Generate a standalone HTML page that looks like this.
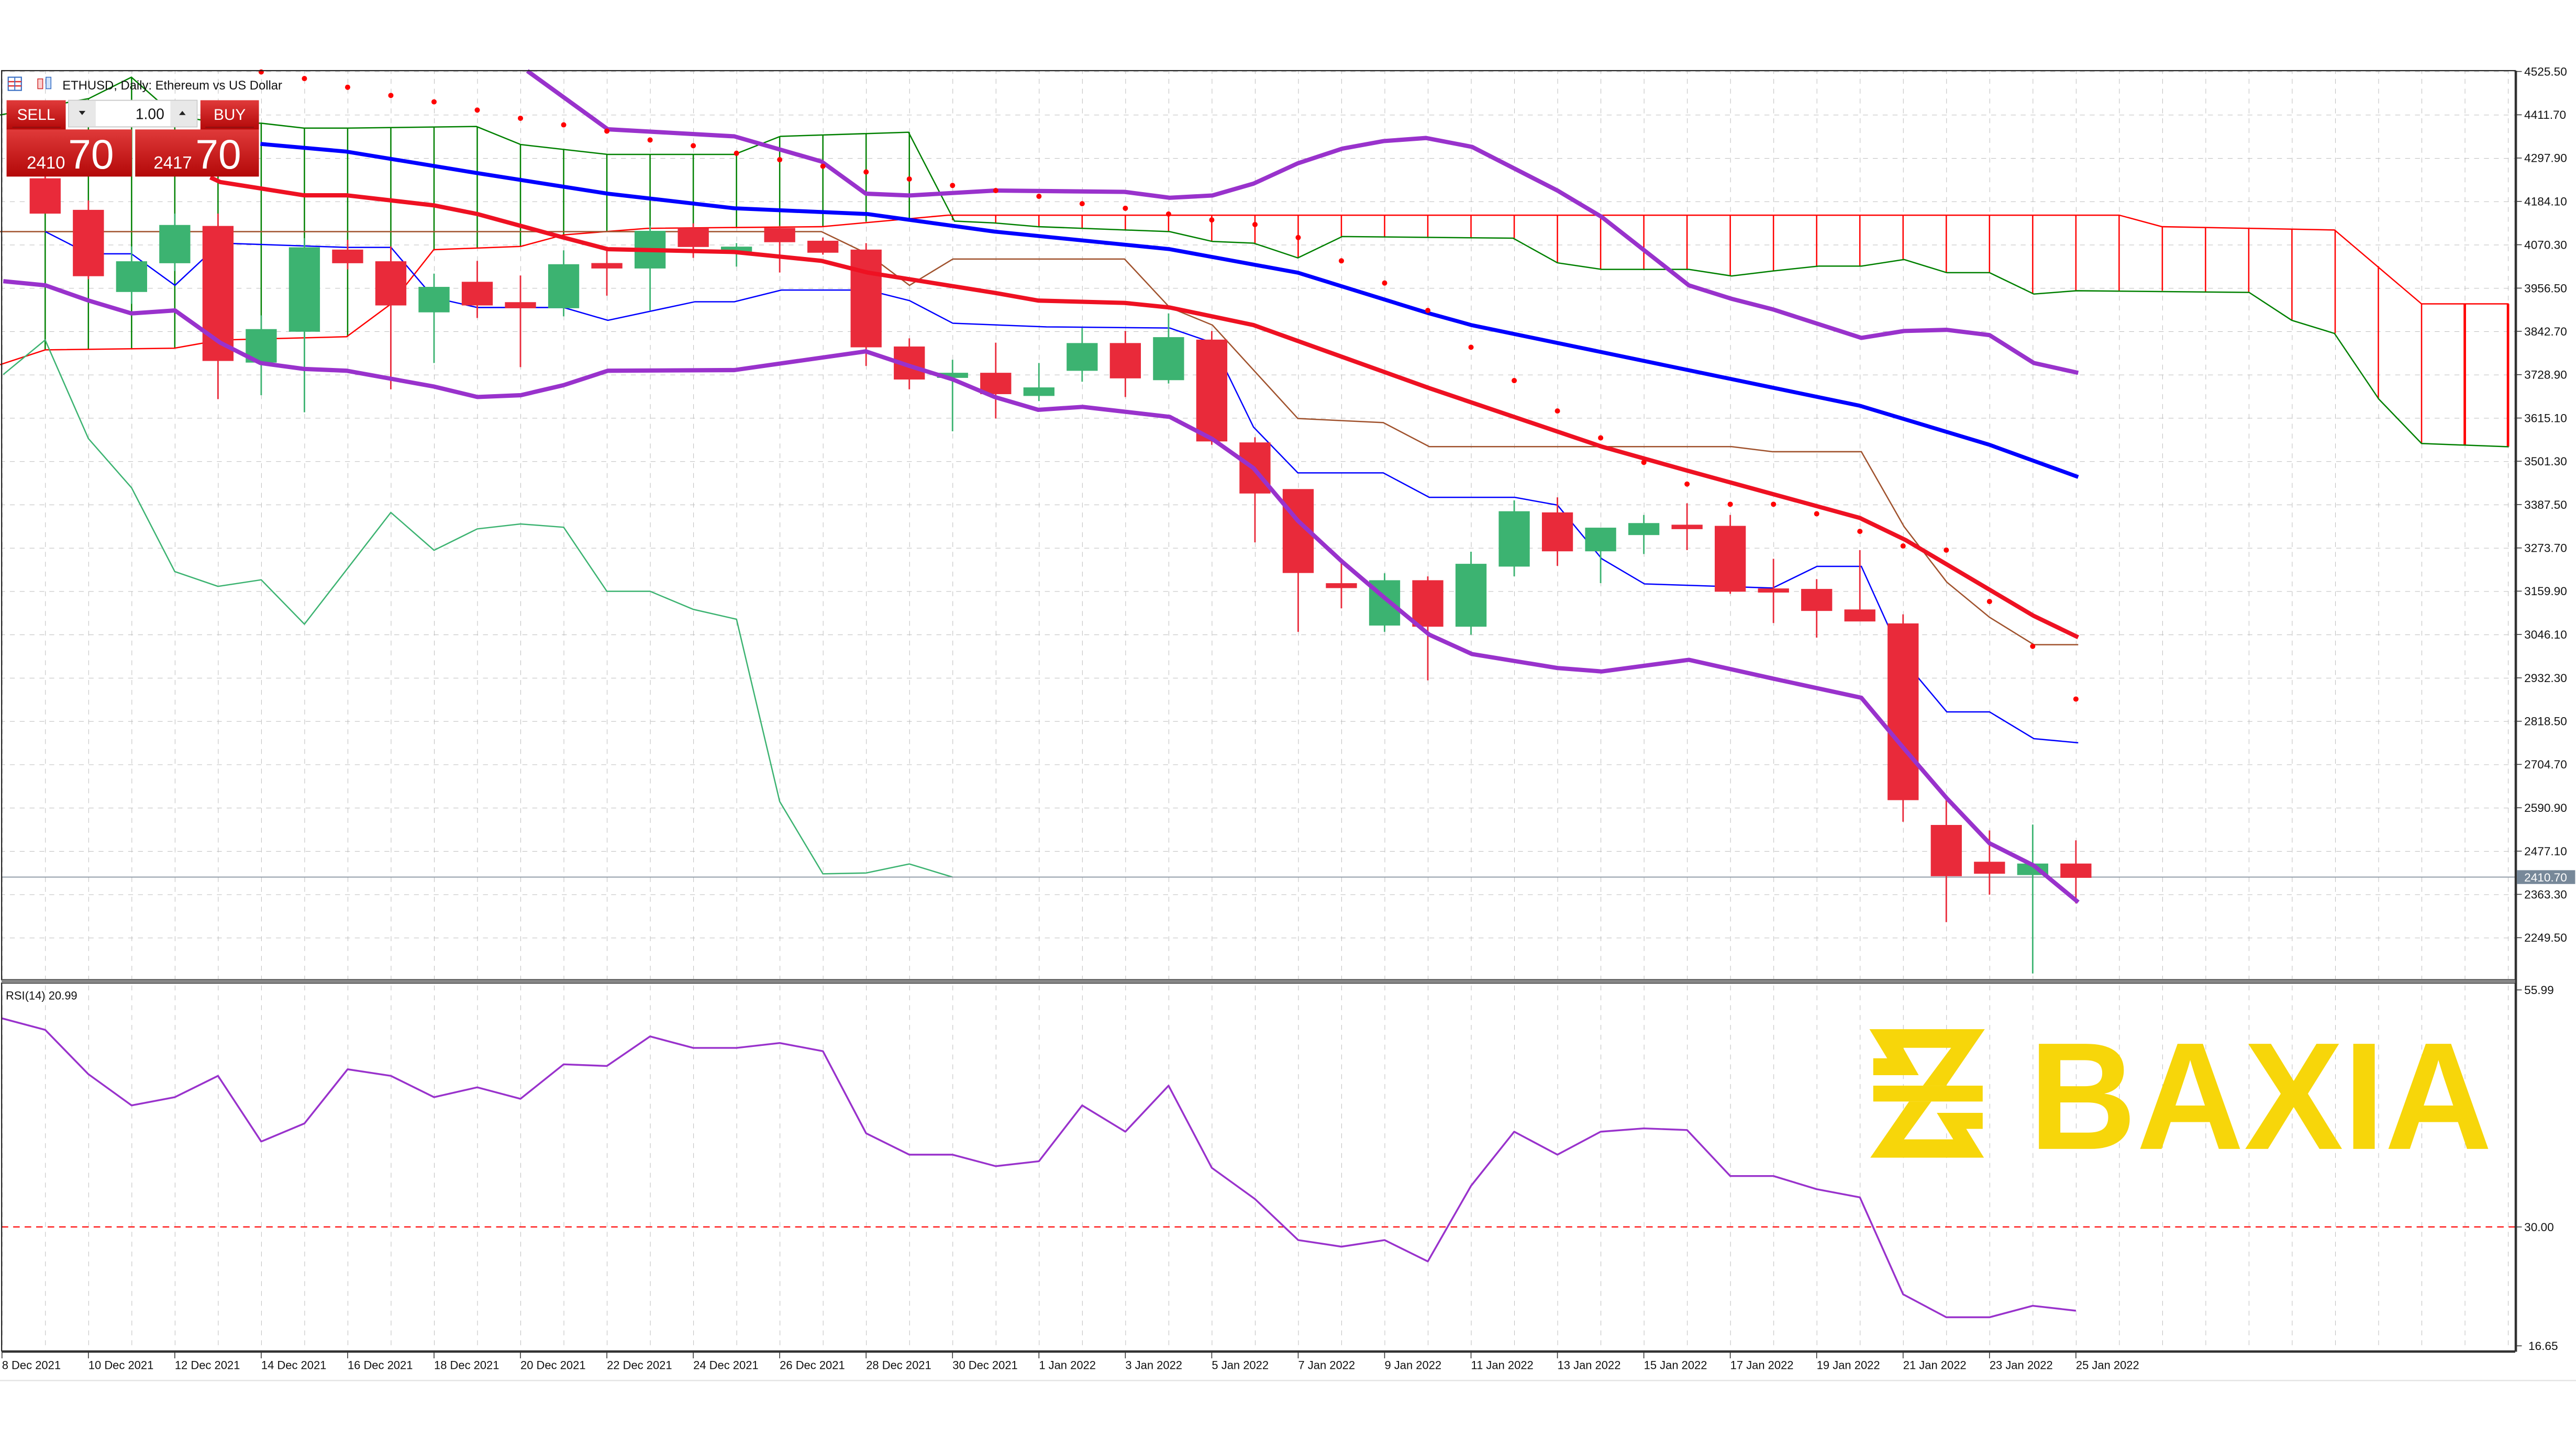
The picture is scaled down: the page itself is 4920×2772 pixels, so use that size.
<!DOCTYPE html>
<html><head><meta charset="utf-8"><style>html,body{margin:0;padding:0;background:#fff;}svg{display:block;}</style></head>
<body>
<svg xmlns="http://www.w3.org/2000/svg" width="4920" height="2772" viewBox="0 0 1568 883.4" font-family="Liberation Sans, sans-serif">
<defs>
<pattern id="gv" patternUnits="userSpaceOnUse" x="1.2" y="0" width="26.3" height="6"><line x1="0" y1="0" x2="0" y2="3" stroke="#b8b8b8" stroke-width="0.6"/></pattern>
<pattern id="gh" patternUnits="userSpaceOnUse" x="0" y="43.5" width="6" height="26.37"><line x1="0" y1="0" x2="3" y2="0" stroke="#b8b8b8" stroke-width="0.6"/></pattern>
</defs>
<rect width="1568" height="883.4" fill="#fff"/>
<!-- grids -->
<rect x="1" y="43" width="1530" height="553" fill="url(#gv)"/>
<rect x="1" y="43" width="1530" height="553" fill="url(#gh)"/>
<rect x="1" y="599" width="1530" height="223" fill="url(#gv)"/>

<!-- cloud green hatches -->
<g stroke="#008000" stroke-width="0.8">
<line x1="27.5" y1="65" x2="27.5" y2="213"/><line x1="53.8" y1="60" x2="53.8" y2="213"/><line x1="80.1" y1="47" x2="80.1" y2="212.5"/><line x1="106.4" y1="70" x2="106.4" y2="212"/><line x1="132.7" y1="75" x2="132.7" y2="207"/><line x1="159" y1="75" x2="159" y2="206.5"/><line x1="185.3" y1="78" x2="185.3" y2="206"/><line x1="211.6" y1="78" x2="211.6" y2="205"/><line x1="237.9" y1="78" x2="237.9" y2="185"/><line x1="264.2" y1="77" x2="264.2" y2="152"/><line x1="290.5" y1="77" x2="290.5" y2="151"/><line x1="316.8" y1="88" x2="316.8" y2="150"/><line x1="343.1" y1="91" x2="343.1" y2="143"/><line x1="369.4" y1="94" x2="369.4" y2="141"/><line x1="395.7" y1="94" x2="395.7" y2="139"/><line x1="422" y1="94" x2="422" y2="139"/><line x1="448.3" y1="94" x2="448.3" y2="138.5"/><line x1="474.6" y1="83" x2="474.6" y2="138"/><line x1="500.9" y1="82" x2="500.9" y2="138"/><line x1="527.2" y1="81.5" x2="527.2" y2="135"/><line x1="553.5" y1="80.5" x2="553.5" y2="134"/>
</g>
<g stroke="#ff0000" stroke-width="0.8">
<line x1="579.8" y1="131" x2="579.8" y2="134"/><line x1="606.1" y1="131" x2="606.1" y2="136"/><line x1="632.4" y1="131" x2="632.4" y2="138"/><line x1="658.7" y1="131" x2="658.7" y2="139"/><line x1="685" y1="131" x2="685" y2="140"/><line x1="711.3" y1="131" x2="711.3" y2="141"/><line x1="737.6" y1="131" x2="737.6" y2="147"/><line x1="763.9" y1="131" x2="763.9" y2="148"/><line x1="790.2" y1="131" x2="790.2" y2="157"/><line x1="816.5" y1="131" x2="816.5" y2="144"/><line x1="842.8" y1="131" x2="842.8" y2="144"/><line x1="869.1" y1="131" x2="869.1" y2="144.5"/><line x1="895.4" y1="131" x2="895.4" y2="145"/><line x1="921.7" y1="131" x2="921.7" y2="145"/><line x1="948" y1="131" x2="948" y2="160"/><line x1="974.3" y1="131" x2="974.3" y2="164"/><line x1="1000.6" y1="131" x2="1000.6" y2="164"/><line x1="1026.9" y1="131" x2="1026.9" y2="164"/><line x1="1053.2" y1="131" x2="1053.2" y2="168"/><line x1="1079.5" y1="131" x2="1079.5" y2="165"/><line x1="1105.8" y1="131" x2="1105.8" y2="162"/><line x1="1132.1" y1="131" x2="1132.1" y2="162"/><line x1="1158.4" y1="131" x2="1158.4" y2="158"/><line x1="1184.7" y1="131" x2="1184.7" y2="166"/><line x1="1211" y1="131" x2="1211" y2="166"/><line x1="1237.3" y1="131" x2="1237.3" y2="179"/><line x1="1263.6" y1="131" x2="1263.6" y2="177"/><line x1="1289.9" y1="131" x2="1289.9" y2="177"/><line x1="1316.2" y1="138" x2="1316.2" y2="177"/><line x1="1342.5" y1="138.5" x2="1342.5" y2="177.5"/><line x1="1368.8" y1="139" x2="1368.8" y2="178"/><line x1="1395.1" y1="139.5" x2="1395.1" y2="195"/><line x1="1421.4" y1="140" x2="1421.4" y2="203"/><line x1="1447.7" y1="162" x2="1447.7" y2="243"/><line x1="1474" y1="185" x2="1474" y2="270"/><line x1="1500.3" y1="185" x2="1500.3" y2="271" stroke-width="1.5"/><line x1="1526.6" y1="185" x2="1526.6" y2="272" stroke-width="1.5"/>
</g>
<!-- cloud boundary lines -->
<polyline fill="none" stroke="#008000" stroke-width="0.8" points="0,70 54,60 80,47 106,70 133,75 159,75 185,78 211,78 290,77 317,88 370,94 447,94 475,83 553,80.5 581,134.6 605,135.7 632,138 712,141 738,147 763,148 790,157 817,144 921,145 948,160 975,164 1028,164 1054,168 1079,165 1107,162 1133,162 1159,158 1185,166 1211,166 1238,179 1264,177 1369,178 1395,195 1421,203 1448,243 1474,270 1527,272"/>
<polyline fill="none" stroke="#ff0000" stroke-width="0.8" points="0,222 27.5,213 106,212 134,207 211,205 238,185 264,152 317,150 343,143 394,139 500,138 577,131 1290,131 1316,138 1421,140 1474,185 1527,185"/>
<!-- brown kijun -->
<polyline fill="none" stroke="#a0522d" stroke-width="0.8" points="0,141 500,141 528,154.5 553.6,173.7 580,157.7 684.5,157.7 712,187.2 738,197.9 790,254.8 842,257.3 870,271.9 1054,271.9 1079,275 1133,275 1159,320.6 1185,354.4 1211,375.8 1238,392.5 1265,392.5"/>
<!-- thin blue tenkan -->
<polyline fill="none" stroke="#0000ff" stroke-width="0.8" points="27.6,141 54,154.5 80,154.5 106.5,173.7 134,148 211,150.6 238,150.6 264,181.2 290.6,187.2 343,187.2 370,195 423,183.7 447,183.7 475.6,176.6 528,176.6 553.6,183 580,196.8 637,199 712,199.7 738,208.6 763,260 790,287.9 842,287.9 870,302.8 922,302.8 948,307.5 975,340.2 1001,355.5 1079,358 1106,344.8 1133,344.8 1159,402.4 1185,433.4 1211,433.4 1238,449.7 1265,452.2"/>
<!-- chikou -->
<polyline fill="none" stroke="#3cb371" stroke-width="0.8" points="2,228 27.5,207 53.8,267 80.1,297 106.4,348 132.7,357 159,353 185.3,380 237.9,312 264.2,335 290.5,322 316.8,319 343.1,321 369.4,360 395.7,360 422,371 448.3,377 474.6,488 500.9,532 527.2,531.5 553.5,526 579.8,534"/>
<!-- current price line -->
<line x1="1" y1="534" x2="1531" y2="534" stroke="#8a96a3" stroke-width="0.6"/>

<!-- candles -->
<g stroke-width="0.9">
<g stroke="#e92a3a" fill="#e92a3a">
<line x1="27.5" y1="105" x2="27.5" y2="130"/><rect x="18.5" y="109" width="18" height="20.6"/>
<line x1="53.8" y1="122" x2="53.8" y2="170"/><rect x="44.8" y="128.2" width="18" height="39.5"/>
<line x1="132.7" y1="130" x2="132.7" y2="243"/><rect x="123.7" y="138" width="18" height="81.3"/>
<line x1="211.6" y1="146" x2="211.6" y2="164"/><rect x="202.6" y="152.4" width="18" height="7.4"/>
<line x1="237.9" y1="150" x2="237.9" y2="237"/><rect x="228.9" y="159.5" width="18" height="26"/>
<line x1="290.5" y1="158.8" x2="290.5" y2="193.6"/><rect x="281.5" y="172" width="18" height="13.5"/>
<line x1="316.8" y1="167.7" x2="316.8" y2="223.5"/><rect x="307.8" y="184.4" width="18" height="2.8"/>
<line x1="369.4" y1="151.7" x2="369.4" y2="180"/><rect x="360.4" y="160.6" width="18" height="2.4"/>
<line x1="422" y1="136" x2="422" y2="157"/><rect x="413" y="139.2" width="18" height="10.7"/>
<line x1="474.6" y1="137.4" x2="474.6" y2="165.9"/><rect x="465.6" y="139.2" width="18" height="7.8"/>
<line x1="500.9" y1="144.6" x2="500.9" y2="155"/><rect x="491.9" y="147" width="18" height="6.4"/>
<line x1="527.2" y1="148" x2="527.2" y2="222.8"/><rect x="518.2" y="152.4" width="18" height="58.6"/>
<line x1="553.5" y1="206" x2="553.5" y2="237"/><rect x="544.5" y="211.4" width="18" height="19.2"/>
<line x1="606.1" y1="208.6" x2="606.1" y2="254.8"/><rect x="597.1" y="227.4" width="18" height="12.1"/>
<line x1="685" y1="201.5" x2="685" y2="241.7"/><rect x="676" y="209.3" width="18" height="20.6"/>
<line x1="737.6" y1="201.5" x2="737.6" y2="270.8"/><rect x="728.6" y="207.2" width="18" height="61.1"/>
<line x1="763.9" y1="266.2" x2="763.9" y2="330.2"/><rect x="754.9" y="269.8" width="18" height="30.2"/>
<line x1="790.2" y1="298" x2="790.2" y2="384.7"/><rect x="781.2" y="298.2" width="18" height="50.2"/>
<line x1="816.5" y1="342" x2="816.5" y2="370.4"/><rect x="807.5" y="355.5" width="18" height="2.1"/>
<line x1="869.1" y1="350.9" x2="869.1" y2="414.2"/><rect x="860.1" y="353.7" width="18" height="27.4"/>
<line x1="948" y1="302.8" x2="948" y2="344.5"/><rect x="939" y="312.4" width="18" height="22.8"/>
<line x1="1026.9" y1="306.4" x2="1026.9" y2="334.9"/><rect x="1017.9" y="319.9" width="18" height="1.8"/>
<line x1="1053.2" y1="313.5" x2="1053.2" y2="361.5"/><rect x="1044.2" y="320.6" width="18" height="39.2"/>
<line x1="1079.5" y1="340.2" x2="1079.5" y2="379.3"/><rect x="1070.5" y="358.7" width="18" height="1.6"/>
<line x1="1105.8" y1="352.6" x2="1105.8" y2="388.2"/><rect x="1096.8" y="359" width="18" height="12.5"/>
<line x1="1132.1" y1="334.9" x2="1132.1" y2="377.9"/><rect x="1123.1" y="371.5" width="18" height="6.4"/>
<line x1="1158.4" y1="374" x2="1158.4" y2="500.3"/><rect x="1149.4" y="380" width="18" height="106.7"/>
<line x1="1184.7" y1="486" x2="1184.7" y2="561.4"/><rect x="1175.7" y="502.7" width="18" height="30.3"/>
<line x1="1211" y1="505.6" x2="1211" y2="544.7"/><rect x="1202" y="525.1" width="18" height="6.4"/>
<line x1="1263.6" y1="511.6" x2="1263.6" y2="550"/><rect x="1254.6" y="526.2" width="18" height="7.8"/>
</g>
<g stroke="#3cb371" fill="#3cb371">
<line x1="80.1" y1="150" x2="80.1" y2="185"/><rect x="71.1" y="159.5" width="18" height="17.8"/>
<line x1="106.4" y1="130" x2="106.4" y2="165"/><rect x="97.4" y="137.4" width="18" height="22.4"/>
<line x1="159" y1="192" x2="159" y2="240.6"/><rect x="150" y="200.8" width="18" height="19.5"/>
<line x1="185.3" y1="145" x2="185.3" y2="251"/><rect x="176.3" y="151" width="18" height="50.5"/>
<line x1="264.2" y1="166.6" x2="264.2" y2="221"/><rect x="255.2" y="175.1" width="18" height="14.6"/>
<line x1="343.1" y1="152.4" x2="343.1" y2="192.6"/><rect x="334.1" y="161.3" width="18" height="25.9"/>
<line x1="395.7" y1="137.4" x2="395.7" y2="189"/><rect x="386.7" y="141" width="18" height="22"/>
<line x1="448.3" y1="148" x2="448.3" y2="162.3"/><rect x="439.3" y="150.6" width="18" height="2.1"/>
<line x1="579.8" y1="219" x2="579.8" y2="262.6"/><rect x="570.8" y="227.4" width="18" height="2.2"/>
<line x1="632.4" y1="221" x2="632.4" y2="244.2"/><rect x="623.4" y="236.3" width="18" height="4.3"/>
<line x1="658.7" y1="199.7" x2="658.7" y2="232.4"/><rect x="649.7" y="209.3" width="18" height="16"/>
<line x1="711.3" y1="190.8" x2="711.3" y2="233.5"/><rect x="702.3" y="205.7" width="18" height="25.3"/>
<line x1="842.8" y1="349" x2="842.8" y2="384.7"/><rect x="833.8" y="353.7" width="18" height="26.7"/>
<line x1="895.4" y1="335.9" x2="895.4" y2="386.4"/><rect x="886.4" y="343.7" width="18" height="37.4"/>
<line x1="921.7" y1="304.6" x2="921.7" y2="350.9"/><rect x="912.7" y="311.7" width="18" height="32.8"/>
<line x1="974.3" y1="321.7" x2="974.3" y2="355"/><rect x="965.3" y="321.7" width="18" height="13.5"/>
<line x1="1000.6" y1="313.5" x2="1000.6" y2="337.3"/><rect x="991.6" y="318.9" width="18" height="6.4"/>
<line x1="1237.3" y1="502" x2="1237.3" y2="592.7"/><rect x="1228.3" y="526.2" width="18" height="6.1"/>
</g>
</g>

<!-- thick lines -->
<polyline fill="none" stroke="#0000ff" stroke-width="2.4" stroke-linejoin="round" points="158.5,87.6 211,92.3 290.6,105.4 370,117.9 447,126.8 528,130.3 605.5,141 712,151.7 790,166 870,190.8 896,198 1132,247 1211,270.8 1265,290.4"/>
<polyline fill="none" stroke="#ee1122" stroke-width="2.6" stroke-linejoin="round" points="128,108 134,110.8 185,118.9 211,118.9 264,125 290.6,130.3 343,144.6 370,151.7 447,153.4 500,158.8 528,165.9 605.5,178.3 632,183 684.5,184.4 712,187.2 763,197.9 870,236.3 975,271.9 1028,286.8 1132,315.3 1160,328.8 1238,375 1265,388"/>
<polyline fill="none" stroke="#9932cc" stroke-width="2.6" stroke-linejoin="round" points="321,43.2 370,78.7 447,83 500,98.3 527,117.9 553.6,119 605.5,116 684.5,116.8 712,120.4 738,119 763,111.8 790,99.4 817,90.5 842,85.9 868,84 896,89.4 948,116 975,132.1 1028,173.7 1054,181.9 1079,188.3 1133,205.7 1159,201.5 1185,200.8 1211,204 1238,221 1265,227"/>
<polyline fill="none" stroke="#9932cc" stroke-width="2.6" stroke-linejoin="round" points="2,171.2 27.6,173.7 54,183 80,190.8 106.5,189 134,208.6 158.5,221 185,224.6 211,225.7 264,235.3 290.6,241.7 317,240.6 343,234.5 370,225.7 447,225.3 527,213.9 553.6,222.8 580,231 605.5,241.7 632,249.5 659,247.7 712,253.8 738,267.3 763,285 790,317 817,342 842,363.3 870,386.4 896,398.2 948,406.7 975,408.8 1028,401.7 1079,413.1 1133,424.8 1159,455.8 1185,486 1211,513.4 1238,527 1265,549.3"/>

<!-- SAR dots -->
<g fill="#ff0000">
<circle cx="159" cy="43.8" r="1.6"/><circle cx="185.3" cy="47.8" r="1.6"/><circle cx="211.6" cy="53.1" r="1.6"/><circle cx="237.9" cy="58.1" r="1.6"/><circle cx="264.2" cy="62" r="1.6"/><circle cx="290.5" cy="67" r="1.6"/><circle cx="316.8" cy="72" r="1.6"/><circle cx="343.1" cy="76" r="1.6"/><circle cx="369.4" cy="79.8" r="1.6"/><circle cx="395.7" cy="85.2" r="1.6"/><circle cx="422" cy="88.7" r="1.6"/><circle cx="448.3" cy="93.3" r="1.6"/><circle cx="474.6" cy="97.2" r="1.6"/><circle cx="500.9" cy="101.2" r="1.6"/><circle cx="527.2" cy="104.7" r="1.6"/><circle cx="553.5" cy="109" r="1.6"/><circle cx="579.8" cy="112.9" r="1.6"/><circle cx="606.1" cy="116" r="1.6"/><circle cx="632.4" cy="119.5" r="1.6"/><circle cx="658.7" cy="124" r="1.6"/><circle cx="685" cy="126.8" r="1.6"/><circle cx="711.3" cy="130.3" r="1.6"/><circle cx="737.6" cy="133.9" r="1.6"/><circle cx="763.9" cy="136.7" r="1.6"/><circle cx="790.2" cy="144.6" r="1.6"/><circle cx="816.5" cy="158.8" r="1.6"/><circle cx="842.8" cy="172.3" r="1.6"/><circle cx="869.1" cy="189" r="1.6"/><circle cx="895.4" cy="211.4" r="1.6"/><circle cx="921.7" cy="231.7" r="1.6"/><circle cx="948" cy="250.2" r="1.6"/><circle cx="974.3" cy="266.6" r="1.6"/><circle cx="1000.6" cy="281.5" r="1.6"/><circle cx="1026.9" cy="294.7" r="1.6"/><circle cx="1053.2" cy="307" r="1.6"/><circle cx="1079.5" cy="307" r="1.6"/><circle cx="1105.8" cy="312.8" r="1.6"/><circle cx="1132.1" cy="323.5" r="1.6"/><circle cx="1158.4" cy="332.4" r="1.6"/><circle cx="1184.7" cy="334.9" r="1.6"/><circle cx="1211" cy="366.2" r="1.6"/><circle cx="1237.3" cy="393.5" r="1.6"/><circle cx="1263.6" cy="425.6" r="1.6"/>
</g>

<!-- header -->
<g>
<rect x="5" y="47" width="8" height="8" fill="#fff" stroke="#3a6fc4" stroke-width="0.7"/>
<line x1="5" y1="49.7" x2="13" y2="49.7" stroke="#e03030" stroke-width="0.8"/><line x1="5" y1="52.3" x2="13" y2="52.3" stroke="#e03030" stroke-width="0.8"/><line x1="9" y1="47" x2="9" y2="55" stroke="#3a6fc4" stroke-width="0.6"/>
<rect x="23" y="48" width="3" height="6" fill="#fbd0d0" stroke="#d03030" stroke-width="0.5"/><rect x="28" y="47" width="3" height="7" fill="#d0e4fb" stroke="#3a6fc4" stroke-width="0.5"/>
<text x="38" y="54.5" font-size="7.6" fill="#111">ETHUSD, Daily:  Ethereum vs US Dollar</text>
</g>
<!-- trade panel -->
<g>
<defs><linearGradient id="rg" x1="0" y1="0" x2="0" y2="1"><stop offset="0" stop-color="#e03a3a"/><stop offset="1" stop-color="#b30808"/></linearGradient></defs>
<rect x="4" y="61" width="36" height="18" fill="url(#rg)"/>
<rect x="122" y="61" width="35.6" height="18" fill="url(#rg)"/>
<rect x="4" y="78.8" width="76.3" height="28.7" fill="url(#rg)"/>
<rect x="82.3" y="78.8" width="75.3" height="28.7" fill="url(#rg)"/>
<rect x="41.7" y="61" width="78.3" height="16.3" fill="#e8e8e8" stroke="#c8c8c8" stroke-width="0.5"/>
<rect x="58.3" y="61.5" width="45.4" height="15.3" fill="#fff"/>
<line x1="7.5" y1="77.5" x2="37" y2="77.5" stroke="#8a1010" stroke-width="0.6"/>
<line x1="125" y1="77.5" x2="154.5" y2="77.5" stroke="#8a1010" stroke-width="0.6"/>
<text x="22" y="73" font-size="9.5" fill="#fff" text-anchor="middle">SELL</text>
<text x="139.8" y="73" font-size="9.5" fill="#fff" text-anchor="middle">BUY</text>
<text x="100" y="72.5" font-size="9" fill="#111" text-anchor="end">1.00</text>
<path d="M48 67.5 L52 67.5 L50 70 Z" fill="#222"/><path d="M109 70 L113 70 L111 67.5 Z" fill="#222"/>
<text x="16.3" y="102.6" font-size="10.5" fill="#fff">2410</text>
<text x="41.5" y="102.6" font-size="25" fill="#fff">70</text>
<text x="93.5" y="102.6" font-size="10.5" fill="#fff">2417</text>
<text x="119" y="102.6" font-size="25" fill="#fff">70</text>
</g>

<!-- RSI -->
<line x1="1" y1="747" x2="1531" y2="747" stroke="#ff0000" stroke-width="0.7" stroke-dasharray="4,3"/>
<!-- logo -->
<g fill="#f7d60a">
<g transform="translate(1128.2,615.1) scale(0.2562,0.1062)">
<polygon points="38,108 312,108 220,432 165,432 232,215 118,215 155,372 47,372 47,275 80,275"/>
<rect x="47" y="432" width="260" height="91"/>
<polygon points="132,523 185,523 120,740 237,740 198,588 307,588 307,680 268,680 310,845 40,845"/>
</g>
<text x="1235" y="699.5" font-size="93" font-weight="bold" textLength="282" lengthAdjust="spacingAndGlyphs">BAXIA</text>
</g>
<polyline fill="none" stroke="#9932cc" stroke-width="1.1" stroke-linejoin="round" points="1.2,620 27.5,627 53.8,654 80.1,673 106.4,668 132.7,655 159,695 185.3,684 211.6,651 237.9,655 264.2,668 290.5,662 316.8,669 343.1,648 369.4,649 395.7,631 422,638 448.3,638 474.6,635 500.9,640 527.2,690 553.5,703 579.8,703 606.1,710 632.4,707 658.7,673 685,689 711.3,661 737.6,711 763.9,730 790.2,755 816.5,759 842.8,755 869.1,768 895.4,722 921.7,689 948,703 974.3,689 1000.6,687 1026.9,688 1053.2,716 1079.5,716 1105.8,724 1132.1,729 1158.4,788 1184.7,802 1211,802 1237.3,795 1263.6,798"/>
<text x="3.5" y="608.5" font-size="7" fill="#111">RSI(14) 20.99</text>

<!-- frames -->
<rect x="1" y="43" width="1530" height="553.5" fill="none" stroke="#222" stroke-width="0.7"/>
<rect x="1" y="598.5" width="1530" height="224" fill="none" stroke="#222" stroke-width="0.7"/>
<rect x="1" y="596.5" width="1530" height="2" fill="#888"/>
<line x1="1531.5" y1="43" x2="1531.5" y2="823" stroke="#333" stroke-width="1.2"/>
<line x1="1" y1="823" x2="1531" y2="823" stroke="#333" stroke-width="1.2"/>
<line x1="0" y1="840.5" x2="1568" y2="840.5" stroke="#e4e4e4" stroke-width="0.8"/>

<!-- price axis -->
<g font-size="7.2" fill="#111" stroke="none">
<g stroke="#333" stroke-width="0.5">
<line x1="1531" y1="43.5" x2="1535" y2="43.5"/><line x1="1531" y1="69.9" x2="1535" y2="69.9"/><line x1="1531" y1="96.2" x2="1535" y2="96.2"/><line x1="1531" y1="122.6" x2="1535" y2="122.6"/><line x1="1531" y1="149" x2="1535" y2="149"/><line x1="1531" y1="175.4" x2="1535" y2="175.4"/><line x1="1531" y1="201.7" x2="1535" y2="201.7"/><line x1="1531" y1="228.1" x2="1535" y2="228.1"/><line x1="1531" y1="254.5" x2="1535" y2="254.5"/><line x1="1531" y1="280.8" x2="1535" y2="280.8"/><line x1="1531" y1="307.2" x2="1535" y2="307.2"/><line x1="1531" y1="333.6" x2="1535" y2="333.6"/><line x1="1531" y1="359.9" x2="1535" y2="359.9"/><line x1="1531" y1="386.3" x2="1535" y2="386.3"/><line x1="1531" y1="412.7" x2="1535" y2="412.7"/><line x1="1531" y1="439.1" x2="1535" y2="439.1"/><line x1="1531" y1="465.4" x2="1535" y2="465.4"/><line x1="1531" y1="491.8" x2="1535" y2="491.8"/><line x1="1531" y1="518.2" x2="1535" y2="518.2"/><line x1="1531" y1="544.5" x2="1535" y2="544.5"/><line x1="1531" y1="570.9" x2="1535" y2="570.9"/><line x1="1531" y1="602.7" x2="1535" y2="602.7"/><line x1="1531" y1="747" x2="1535" y2="747"/><line x1="1531" y1="819.4" x2="1535" y2="819.4"/>
</g>
<text x="1536.5" y="46">4525.50</text><text x="1536.5" y="72.4">4411.70</text><text x="1536.5" y="98.7">4297.90</text><text x="1536.5" y="125.1">4184.10</text><text x="1536.5" y="151.5">4070.30</text><text x="1536.5" y="177.9">3956.50</text><text x="1536.5" y="204.2">3842.70</text><text x="1536.5" y="230.6">3728.90</text><text x="1536.5" y="257">3615.10</text><text x="1536.5" y="283.3">3501.30</text><text x="1536.5" y="309.7">3387.50</text><text x="1536.5" y="336.1">3273.70</text><text x="1536.5" y="362.4">3159.90</text><text x="1536.5" y="388.8">3046.10</text><text x="1536.5" y="415.2">2932.30</text><text x="1536.5" y="441.6">2818.50</text><text x="1536.5" y="467.9">2704.70</text><text x="1536.5" y="494.3">2590.90</text><text x="1536.5" y="520.7">2477.10</text><text x="1536.5" y="547">2363.30</text><text x="1536.5" y="573.4">2249.50</text>
<rect x="1532" y="529.8" width="35.5" height="8.4" fill="#778899"/>
<text x="1536.5" y="536.6" fill="#fff">2410.70</text>
<text x="1536.5" y="605.2">55.99</text><text x="1536.5" y="749.5">30.00</text><text x="1539" y="821.9">16.65</text>
</g>

<!-- time axis -->
<g font-size="7" fill="#111">
<g stroke="#333" stroke-width="0.5">
<line x1="1.2" y1="823" x2="1.2" y2="827"/><line x1="53.8" y1="823" x2="53.8" y2="827"/><line x1="106.4" y1="823" x2="106.4" y2="827"/><line x1="159" y1="823" x2="159" y2="827"/><line x1="211.6" y1="823" x2="211.6" y2="827"/><line x1="264.2" y1="823" x2="264.2" y2="827"/><line x1="316.8" y1="823" x2="316.8" y2="827"/><line x1="369.4" y1="823" x2="369.4" y2="827"/><line x1="422" y1="823" x2="422" y2="827"/><line x1="474.6" y1="823" x2="474.6" y2="827"/><line x1="527.2" y1="823" x2="527.2" y2="827"/><line x1="579.8" y1="823" x2="579.8" y2="827"/><line x1="632.4" y1="823" x2="632.4" y2="827"/><line x1="685" y1="823" x2="685" y2="827"/><line x1="737.6" y1="823" x2="737.6" y2="827"/><line x1="790.2" y1="823" x2="790.2" y2="827"/><line x1="842.8" y1="823" x2="842.8" y2="827"/><line x1="895.4" y1="823" x2="895.4" y2="827"/><line x1="948" y1="823" x2="948" y2="827"/><line x1="1000.6" y1="823" x2="1000.6" y2="827"/><line x1="1053.2" y1="823" x2="1053.2" y2="827"/><line x1="1105.8" y1="823" x2="1105.8" y2="827"/><line x1="1158.4" y1="823" x2="1158.4" y2="827"/><line x1="1211" y1="823" x2="1211" y2="827"/><line x1="1263.6" y1="823" x2="1263.6" y2="827"/>
</g>
<text x="1.2" y="833.5">8 Dec 2021</text><text x="53.8" y="833.5">10 Dec 2021</text><text x="106.4" y="833.5">12 Dec 2021</text><text x="159" y="833.5">14 Dec 2021</text><text x="211.6" y="833.5">16 Dec 2021</text><text x="264.2" y="833.5">18 Dec 2021</text><text x="316.8" y="833.5">20 Dec 2021</text><text x="369.4" y="833.5">22 Dec 2021</text><text x="422" y="833.5">24 Dec 2021</text><text x="474.6" y="833.5">26 Dec 2021</text><text x="527.2" y="833.5">28 Dec 2021</text><text x="579.8" y="833.5">30 Dec 2021</text><text x="632.4" y="833.5">1 Jan 2022</text><text x="685" y="833.5">3 Jan 2022</text><text x="737.6" y="833.5">5 Jan 2022</text><text x="790.2" y="833.5">7 Jan 2022</text><text x="842.8" y="833.5">9 Jan 2022</text><text x="895.4" y="833.5">11 Jan 2022</text><text x="948" y="833.5">13 Jan 2022</text><text x="1000.6" y="833.5">15 Jan 2022</text><text x="1053.2" y="833.5">17 Jan 2022</text><text x="1105.8" y="833.5">19 Jan 2022</text><text x="1158.4" y="833.5">21 Jan 2022</text><text x="1211" y="833.5">23 Jan 2022</text><text x="1263.6" y="833.5">25 Jan 2022</text>
</g>
</svg>
</body></html>
